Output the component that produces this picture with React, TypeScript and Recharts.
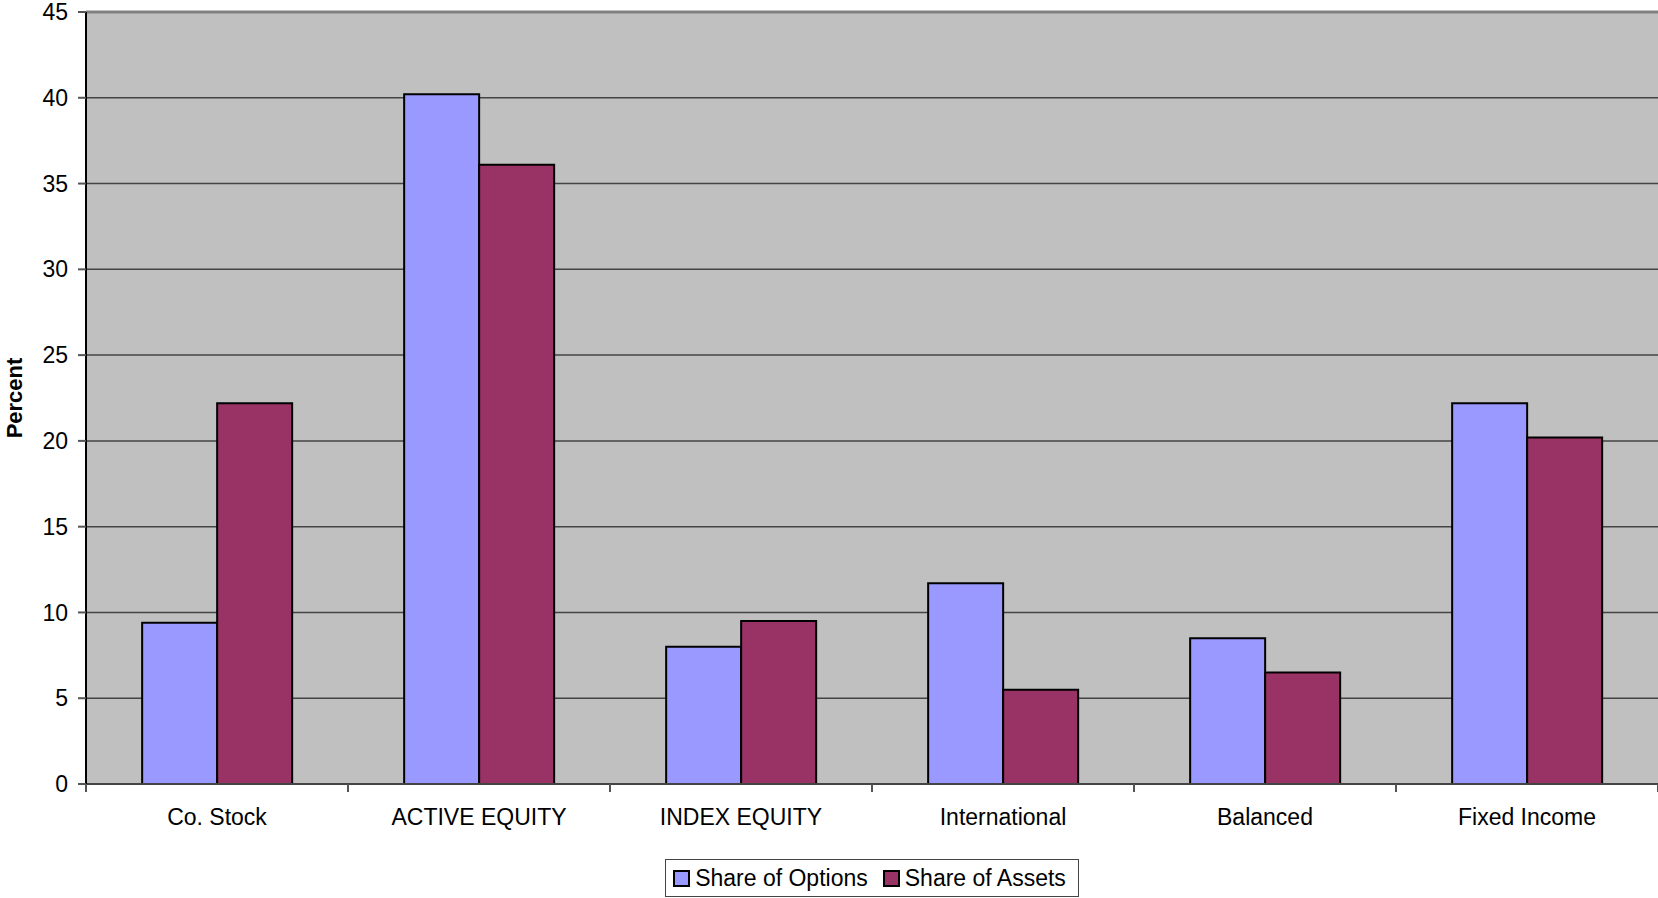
import React from 'react';
import { BarChart, Bar, XAxis, YAxis, CartesianGrid, Legend, ReferenceLine } from 'recharts';

const categories = ['Co. Stock', 'ACTIVE EQUITY', 'INDEX EQUITY', 'International', 'Balanced', 'Fixed Income'];
const shareOfOptions = [9.4, 40.2, 8.0, 11.7, 8.5, 22.2];
const shareOfAssets = [22.2, 36.1, 9.5, 5.5, 6.5, 20.2];
const yTicks = [0, 5, 10, 15, 20, 25, 30, 35, 40, 45];
const seriesNames = ['Share of Options', 'Share of Assets'];
const seriesColors = ['#9999FF', '#993366'];

const data = categories.map((c, i) => ({
  name: c,
  options: shareOfOptions[i],
  assets: shareOfAssets[i],
}));

const FONT = '"Liberation Sans", Arial, sans-serif';
const TICK_SIZE = 8;
const TICK_MARGIN = 17;

const CategoryTick = (props: any) => {
  const { x, y, payload, index, visibleTicksCount } = props;
  const half = payload && payload.offset ? payload.offset : 0;
  const axisY = y - TICK_SIZE - TICK_MARGIN;
  const isLast = index === (visibleTicksCount ?? categories.length) - 1;
  return (
    <g>
      <line x1={x - half} x2={x - half} y1={axisY} y2={axisY + TICK_SIZE} stroke="#555" strokeWidth={2} />
      {isLast && (
        <line x1={x + half} x2={x + half} y1={axisY} y2={axisY + TICK_SIZE} stroke="#555" strokeWidth={2} />
      )}
      <text x={x} y={y} dy="0.71em" textAnchor="middle" fill="#000" fontSize={23} fontFamily={FONT}>
        {payload.value}
      </text>
    </g>
  );
};

const LegendContent = () => (
  <div style={{ display: 'flex', justifyContent: 'center', paddingLeft: 86, boxSizing: 'border-box', width: 1658 }}>
    <div
      style={{
        display: 'flex',
        alignItems: 'center',
        height: 36,
        border: '1px solid #444',
        padding: '0 12px 0 7px',
        fontFamily: FONT,
        fontSize: 23,
        color: '#000',
        background: '#fff',
      }}
    >
      {seriesNames.map((n, i) => (
        <div key={n} style={{ display: 'flex', alignItems: 'center', marginLeft: i === 0 ? 0 : 15 }}>
          <span
            style={{
              display: 'inline-block',
              width: 13,
              height: 13,
              background: seriesColors[i],
              border: '2px solid #000',
              marginRight: 5,
            }}
          />
          <span>{n}</span>
        </div>
      ))}
    </div>
  </div>
);

export default function App() {
  return (
    <div style={{ position: 'absolute', left: 0, top: 0, width: 1658, height: 898, background: '#fff' }}>
      <BarChart
        width={1658}
        height={898}
        data={data}
        margin={{ top: 12, right: 0, left: 0, bottom: 54 }}
        barCategoryGap="21.43%"
        barGap={0}
      >
        <CartesianGrid vertical={false} stroke="#444" strokeWidth={1.5} fill="#C0C0C0" />
        <XAxis
          dataKey="name"
          height={60}
          tickLine={false}
          tickSize={TICK_SIZE}
          tickMargin={TICK_MARGIN}
          axisLine={{ stroke: '#444', strokeWidth: 2 }}
          tick={<CategoryTick />}
          interval={0}
        />
        <YAxis
          width={86}
          domain={[0, 45]}
          ticks={yTicks}
          interval={0}
          tickSize={8}
          tickMargin={10}
          axisLine={{ stroke: '#000', strokeWidth: 2 }}
          tickLine={{ stroke: '#555', strokeWidth: 2 }}
          tick={{ fill: '#000', fontSize: 23, fontFamily: FONT }}
          label={{
            content: (p: any) => {
              const vb = p.viewBox || {};
              const cy = (vb.y ?? 12) + (vb.height ?? 772) / 2;
              return (
                <text
                  x={22}
                  y={cy}
                  transform={`rotate(-90, 22, ${cy})`}
                  textAnchor="middle"
                  fontSize={22}
                  fontWeight="bold"
                  fontFamily={FONT}
                  fill="#000"
                >
                  Percent
                </text>
              );
            },
          }}
        />
        <ReferenceLine y={45} stroke="#808080" strokeWidth={3} />
        <Bar dataKey="options" name={seriesNames[0]} fill={seriesColors[0]} stroke="#000" strokeWidth={2} isAnimationActive={false} />
        <Bar dataKey="assets" name={seriesNames[1]} fill={seriesColors[1]} stroke="#000" strokeWidth={2} isAnimationActive={false} />
        <Legend
          layout="horizontal"
          verticalAlign="middle"
          align="center"
          content={<LegendContent />}
          wrapperStyle={{ top: 859, left: 0, width: 1658, height: 38 }}
        />
      </BarChart>
    </div>
  );
}
